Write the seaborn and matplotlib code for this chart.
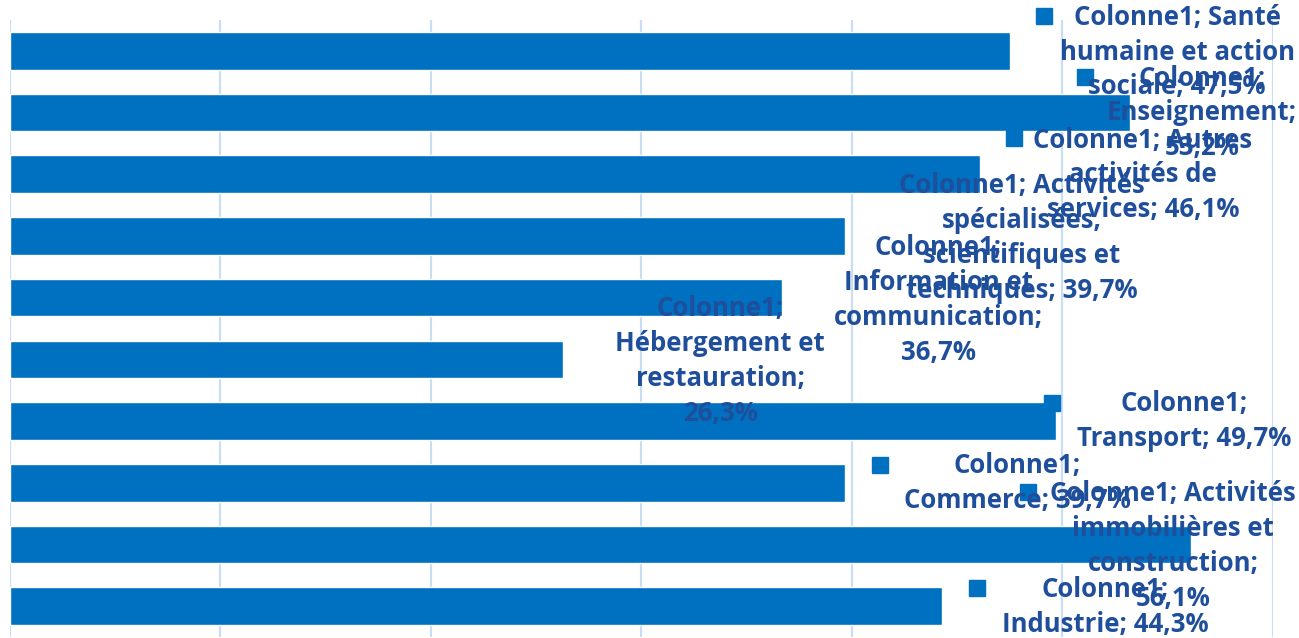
import matplotlib
matplotlib.use("Agg")
import matplotlib.pyplot as plt
import seaborn as sns
import pandas as pd

# ---- data ----
series_name = "Colonne1"
categories = [
    "Santé humaine et action sociale",
    "Enseignement",
    "Autres activités de services",
    "Activités spécialisées, scientifiques et techniques",
    "Information et communication",
    "Hébergement et restauration",
    "Transport",
    "Commerce",
    "Activités immobilières et construction",
    "Industrie",
]
values = [47.5, 53.2, 46.1, 39.7, 36.7, 26.3, 49.7, 39.7, 56.1, 44.3]
x_ticks = [0, 10, 20, 30, 40, 50, 60]

# ---- layout of the data labels (words per line, centre in px, marker centre in px) ----
words_per_line = [[2, 3, 2], [1, 1, 1], [2, 2, 2], [2, 1, 2, 2], [1, 2, 1, 1],
                  [1, 2, 1, 1], [1, 2], [1, 2], [2, 2, 1, 1], [1, 2]]
label_centres = [(1177, 52), (1202, 113), (1143, 175), (1022, 238), (938, 300),
                 (720, 361), (1184, 421), (1017, 483), (1173, 546), (1105, 607)]
marker_centres = [(1044, 16), (1085, 77), (1014, 138), (870, 180), (820, 243),
                  (600, 305), (1052, 403), (880, 465), (1028, 492), (977, 588)]

W, H = 1299, 638
BAR = "#0070C0"
TXT = "#1F4E9B"
GRID = "#C9DDF3"

sns.set_theme(style="white")
plt.rcParams["font.family"] = ["Open Sans", "DejaVu Sans"]

df = pd.DataFrame({"cat": categories, "val": values})

fig = plt.figure(figsize=(W / 100, H / 100), dpi=100)
ax = fig.add_axes([9.7 / W, 1 / H, 1263 / W, 617 / H])
sns.barplot(data=df, x="val", y="cat", orient="h", color=BAR, saturation=1,
            width=0.61, ax=ax)
ax.set_ylim(len(categories) - 0.5, -0.5)
ax.set_xlim(x_ticks[0], x_ticks[-1])
ax.set_xticks(x_ticks)
ax.xaxis.grid(True, color=GRID, linewidth=1.6)
ax.yaxis.grid(False)
ax.set_axisbelow(True)
for s in ax.spines.values():
    s.set_visible(False)
ax.tick_params(left=False, bottom=False, labelleft=False, labelbottom=False)
ax.set_xlabel("")
ax.set_ylabel("")

for cat, val, wpl, (cx, cy), (mx, my) in zip(categories, values, words_per_line,
                                              label_centres, marker_centres):
    words = f"{series_name}; {cat}; {val:.1f}%".replace(".", ",").split()
    lines, i = [], 0
    for n in wpl:
        lines.append(" ".join(words[i:i + n]))
        i += n
    ax.plot([mx / W], [1 - my / H], marker="s", markersize=11.5, color=BAR,
            linestyle="none", transform=fig.transFigure, clip_on=False, zorder=4)
    fig.text(cx / W, 1 - cy / H, "\n".join(lines), ha="center", va="center",
             multialignment="center", fontsize=18.5, fontweight="bold",
             color=TXT, linespacing=1.38, zorder=5)

fig.savefig("out.png", dpi=100)
